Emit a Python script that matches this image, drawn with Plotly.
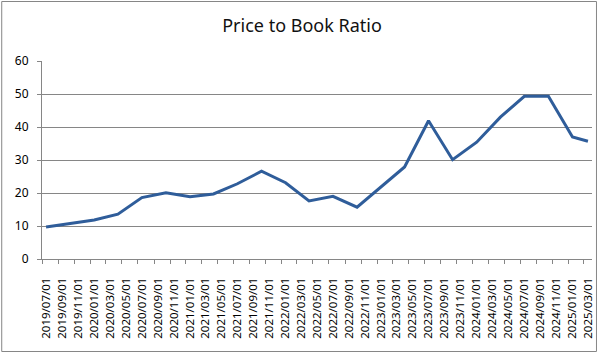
import plotly.graph_objects as go

dates = ["2019-07-01", "2019-10-01", "2020-01-01", "2020-04-01", "2020-07-01",
         "2020-10-01", "2021-01-01", "2021-04-01", "2021-07-01", "2021-10-01",
         "2022-01-01", "2022-04-01", "2022-07-01", "2022-10-01", "2023-01-01",
         "2023-04-01", "2023-07-01", "2023-10-01", "2024-01-01", "2024-04-01",
         "2024-07-01", "2024-10-01", "2025-01-01", "2025-03-01"]
pbr = [9.7, 10.7, 11.8, 13.6, 18.6, 20.1, 18.9, 19.7, 22.8, 26.6,
       23.1, 17.6, 19.0, 15.7, 21.8, 27.9, 41.9, 30.1, 35.4, 43.0,
       49.3, 49.3, 37.0, 35.7]

title_text = "Price to Book Ratio"
font_family = "Noto Sans, Liberation Sans, DejaVu Sans, sans-serif"
grid_col = "#868686"

fig = go.Figure()
fig.add_trace(go.Scatter(
    x=dates, y=pbr, mode="lines",
    xperiod="M1", xperiodalignment="middle",
    line=dict(color="#2F5D9A", width=3),
    hoverinfo="x+y", showlegend=False,
))

W, H = 604, 354
L, R, T, B = 42, 9, 61, 95
pw, ph = W - L - R, H - T - B

def px_x(p):
    return (p - L) / pw

def px_y(p):
    return (H - B - p) / ph

fig.update_layout(
    width=W, height=H,
    margin=dict(l=L, r=R, t=T, b=B),
    paper_bgcolor="white", plot_bgcolor="white",
    font=dict(family=font_family, color="#000000", size=12),
    title=dict(text=title_text, x=0.5, xref="container", xanchor="center",
               y=1 - 26 / H, yref="container", yanchor="middle",
               font=dict(size=18, color="#111111")),
    xaxis=dict(
        type="date",
        range=["2019-07-01", "2025-04-01"],
        tick0="2019-07-01", dtick="M2",
        tickformat="%Y/%m/%d", tickangle=-90,
        ticks="outside", ticklen=4, tickcolor=grid_col,
        ticklabelshift=4, ticklabelstandoff=9,
        showgrid=False, showline=True, linecolor=grid_col, linewidth=1,
        zeroline=False, tickfont=dict(size=11.5),
    ),
    yaxis=dict(
        range=[0, 60], dtick=10,
        ticks="outside", ticklen=4, tickcolor=grid_col,
        showgrid=True, gridcolor=grid_col, gridwidth=1,
        showline=True, linecolor=grid_col, linewidth=1,
        zeroline=False, ticklabelstandoff=6, tickfont=dict(size=12),
    ),
    shapes=[dict(type="rect", xref="paper", yref="paper",
                 x0=px_x(1.5), x1=px_x(599.5), y0=px_y(351.5), y1=px_y(1.5),
                 line=dict(color=grid_col, width=1), fillcolor="rgba(0,0,0,0)",
                 layer="above")],
)

fig.write_html("out.html")
